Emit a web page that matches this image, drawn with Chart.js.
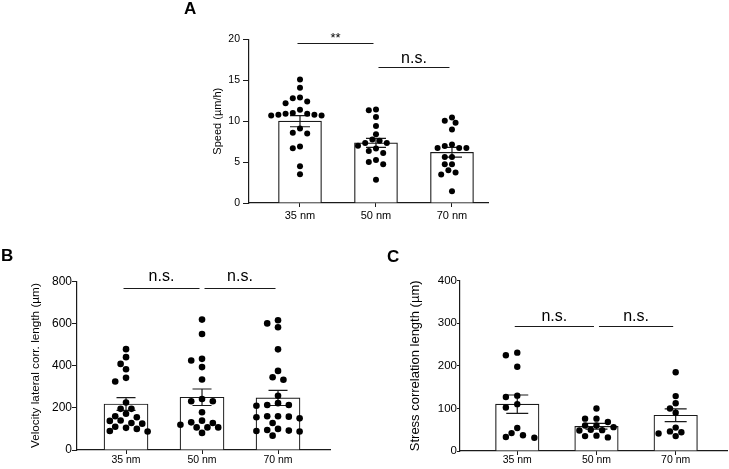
<!DOCTYPE html>
<html><head><meta charset="utf-8">
<script src="https://cdn.jsdelivr.net/npm/chart.js@4.4.1/dist/chart.umd.min.js"></script>
<style>
html,body{margin:0;padding:0;background:#fff;}
body{width:729px;height:469px;position:relative;overflow:hidden;}
canvas{position:absolute;left:0;top:0;}
</style></head><body>
<canvas id="panelA"></canvas><canvas id="panelB"></canvas><canvas id="panelC"></canvas>
<script>
const FONT = "'Liberation Sans', Arial, Helvetica, sans-serif";
const categories = ['35 nm', '50 nm', '70 nm'];

// ---- Panel A: Speed (µm/h)
const speed35 = [15.1, 14.1, 12.9, 12.8, 12.4, 12.2, 11.4, 10.9, 10.8, 10.7, 10.7, 10.8, 10.9, 11.0, 9.1, 8.5, 8.6, 6.7, 6.9, 4.5, 3.5];
const speed50 = [11.35, 11.43, 10.5, 9.4, 8.4, 7.35, 7.35, 7.75, 7.6, 6.35, 6.1, 6.65, 5.0, 4.75, 5.25, 2.85, 7.0];
const speed70 = [10.45, 9.8, 10.05, 9.0, 7.15, 6.73, 6.73, 6.73, 6.98, 5.63, 5.63, 4.74, 4.74, 4.0, 3.47, 3.72, 1.43];
const speedMean = [10.0, 7.35, 6.2];
const speedSem = [0.68, 0.56, 0.6];
const speedTicks = [0, 5, 10, 15, 20];
const speedSig = [{from: 0, to: 1, label: '**', level: 19.55}, {from: 1, to: 2, label: 'n.s.', level: 16.57}];

// ---- Panel B: Velocity lateral corr. length (µm)
const vel35 = [478, 440, 408, 383, 342, 325, 225, 195, 195, 172, 160, 155, 140, 138, 128, 125, 110, 100, 105, 90, 88];
const vel50 = [618, 550, 432, 424, 393, 334, 242, 231, 231, 179, 139, 131, 128, 120, 107, 107, 107, 81];
const vel70 = [615, 600, 582, 477, 375, 345, 333, 257, 213, 213, 222, 210, 160, 160, 150, 158, 155, 128, 90, 100, 88, 95, 68, 92];
const velMean = [218, 250, 247];
const velSem = [30.5, 39, 36];
const velTicks = [0, 200, 400, 600, 800];
const velSig = [{from: 0, to: 1, label: 'n.s.', level: 768}, {from: 1, to: 2, label: 'n.s.', level: 768}];

// ---- Panel C: Stress correlation length (µm)
const stress35 = [231, 225, 198, 127, 130, 102, 110, 54, 31, 42, 33, 37];
const stress50 = [100, 76, 76, 68, 60, 60, 56, 49, 50, 48, 36, 35, 32];
const stress70 = [185, 129, 112, 100, 90, 55, 35, 46, 41, 44];
const stressMean = [110, 58, 84];
const stressSem = [21.5, 6.7, 15];
const stressTicks = [0, 100, 200, 300, 400];
const stressSig = [{from: 0, to: 1, label: 'n.s.', level: 294.6}, {from: 1, to: 2, label: 'n.s.', level: 294.6}];

const INK = '#1a1a1a';

// beeswarm: horizontal pixel offsets so that dots do not overlap
function swarmPixelOffsets(values, yScale, half, D) {
  const order = values.map((v, i) => i).sort((a, b) => values[b] - values[a]);
  const placed = [];
  const off = new Array(values.length).fill(0);
  for (const i of order) {
    const py = yScale.getPixelForValue(values[i]);
    for (let k = 0; k < 80; k++) {
      const m = k === 0 ? 0 : (k % 2 ? -(k + 1) / 2 : k / 2);
      const px = m * half;
      const clash = placed.some(p => (p.px - px) ** 2 + (p.py - py) ** 2 < D * D);
      if (!clash) { off[i] = px; placed.push({px, py}); break; }
    }
  }
  return off;
}

function makePanel(id, P) {
  const canvas = document.getElementById(id);
  const plotW = P.area.right - P.area.left, plotH = P.area.bottom - P.area.top;
  const titleH = P.letterSize * 1.2 + P.letterPadBottom;
  const W = Math.ceil(P.yW + plotW + 6), H = Math.ceil(titleH + plotH + P.xH + 2);
  canvas.width = W; canvas.height = H;
  canvas.style.width = W + 'px'; canvas.style.height = H + 'px';

  const scatterData = [];
  P.groups.forEach((arr, gi) => arr.forEach(v => scatterData.push({x: gi, y: v})));

  const errorBars = {
    id: 'errorBars' + id,
    afterDatasetDraw(chart, args) {
      if (args.meta.type !== 'bar') return;
      const {ctx, scales: {x, y}} = chart;
      ctx.save();
      ctx.strokeStyle = INK; ctx.lineWidth = 1.2;
      P.means.forEach((m, i) => {
        const cx = x.getPixelForValue(i);
        const yt = y.getPixelForValue(m + P.sems[i]);
        const yb = y.getPixelForValue(m - P.sems[i]);
        ctx.beginPath();
        ctx.moveTo(cx, yt); ctx.lineTo(cx, yb);
        ctx.moveTo(cx - P.cap, yt); ctx.lineTo(cx + P.cap, yt);
        ctx.moveTo(cx - P.cap, yb); ctx.lineTo(cx + P.cap, yb);
        ctx.stroke();
      });
      ctx.restore();
    }
  };
  const brackets = {
    id: 'brackets' + id,
    afterDraw(chart) {
      const {ctx, scales: {x, y}} = chart;
      ctx.save();
      ctx.strokeStyle = INK; ctx.fillStyle = '#000'; ctx.lineWidth = 1;
      P.sig.forEach((s, k) => {
        const x1 = x.getPixelForValue(s.from) + (k > 0 ? 2.5 : -2.5);
        const x2 = x.getPixelForValue(s.to) - 2.5;
        const yy = Math.round(y.getPixelForValue(s.level)) + 0.5;
        ctx.beginPath(); ctx.moveTo(x1, yy); ctx.lineTo(x2, yy); ctx.stroke();
        const star = s.label === '**';
        ctx.font = (star ? P.starSize : P.sigSize) + 'px ' + FONT;
        ctx.textAlign = 'center'; ctx.textBaseline = 'alphabetic';
        ctx.fillText(s.label, (x1 + x2) / 2, yy - (star ? P.starGap : P.sigGap));
      });
      ctx.restore();
    }
  };

  const chart = new Chart(canvas, {
    type: 'bar',
    data: {
      datasets: [
        {type: 'scatter', data: scatterData, pointRadius: P.r, pointHoverRadius: P.r,
         backgroundColor: '#000', borderWidth: 0, order: 0},
        {type: 'bar', data: P.means.map((m, i) => ({x: i, y: m})), backgroundColor: '#fff',
         borderColor: INK, borderWidth: 1.2, barThickness: P.barW, order: 1}
      ]
    },
    options: {
      responsive: false, animation: false, devicePixelRatio: 1,
      layout: {padding: {left: 0, right: 6, top: 0, bottom: 2}},
      plugins: {
        legend: {display: false}, tooltip: {enabled: false},
        title: {display: true, text: P.letter, align: 'start', color: '#000',
                font: {family: FONT, size: P.letterSize, weight: 'bold', lineHeight: 1.2},
                padding: {top: 0, bottom: P.letterPadBottom}}
      },
      scales: {
        x: {
          type: 'linear', min: P.xMin, max: P.xMax, offset: false,
          grid: {display: true, drawOnChartArea: false, drawTicks: true, tickLength: P.xTickLen, color: INK, offset: false, lineWidth: 1},
          border: {display: true, color: INK, width: 1.2},
          afterBuildTicks: s => { s.ticks = categories.map((c, i) => ({value: i})); },
          ticks: {callback: v => categories[v] ?? '', color: '#000', padding: P.xTickPad,
                  font: {family: FONT, size: P.xTickSize}, maxRotation: 0, autoSkip: false},
          afterFit: s => { s.height = P.xH; }
        },
        y: {
          type: 'linear', min: P.ticks[0], max: P.ticks[P.ticks.length - 1],
          grid: {display: true, drawOnChartArea: false, drawTicks: true, tickLength: P.yTickLen, color: INK, lineWidth: 1},
          border: {display: true, color: INK, width: 1.2},
          afterBuildTicks: s => { s.ticks = P.ticks.map(v => ({value: v})); },
          ticks: {color: '#000', padding: P.yTickPad, font: {family: FONT, size: P.yTickSize}},
          title: {display: true, text: P.yTitle, color: '#000',
                  font: {family: FONT, size: P.yTitleSize, lineHeight: 1.2},
                  padding: {top: P.yTitlePad, bottom: 0}},
          afterFit: s => { s.width = P.yW; }
        }
      }
    },
    plugins: [errorBars, brackets]
  });

  const ca = chart.chartArea;
  canvas.style.left = (P.area.left - ca.left) + 'px';
  canvas.style.top = (P.area.top - ca.top) + 'px';

  const xs = chart.scales.x, ys = chart.scales.y;
  const pxPerUnit = xs.getPixelForValue(1) - xs.getPixelForValue(0);
  const pts = [];
  P.groups.forEach((arr, gi) => {
    const off = swarmPixelOffsets(arr, ys, P.half, P.D);
    arr.forEach((v, j) => pts.push({x: gi + off[j] / pxPerUnit, y: v}));
  });
  chart.data.datasets[0].data = pts;
  chart.update('none');
  return chart;
}

makePanel('panelA', {
  letter: 'A', letterSize: 17, letterPadBottom: 20,
  groups: [speed35, speed50, speed70], means: speedMean, sems: speedSem, ticks: speedTicks, sig: speedSig,
  area: {left: 249, top: 39.3, right: 488, bottom: 202.7}, xMin: -0.671, xMax: 2.474,
  yW: 65, yTitle: 'Speed (µm/h)', yTitleSize: 11, yTitlePad: 27.4,
  yTickSize: 10.5, yTickLen: 6, yTickPad: 3,
  xH: 30, xTickSize: 11, xTickLen: 4, xTickPad: 2,
  barW: 43, r: 3, cap: 10, half: 3.6, D: 6.2,
  sigSize: 16, sigGap: 4.5, starSize: 13, starGap: 2
});
makePanel('panelB', {
  letter: 'B', letterSize: 17, letterPadBottom: 14.8,
  groups: [vel35, vel50, vel70], means: velMean, sems: velSem, ticks: velTicks, sig: velSig,
  area: {left: 77, top: 281, right: 330, bottom: 449.3}, xMin: -0.645, xMax: 2.684,
  yW: 76, yTitle: 'Velocity lateral corr. length (µm)', yTitleSize: 11.75, yTitlePad: 28,
  yTickSize: 12, yTickLen: 5, yTickPad: 0,
  xH: 22, xTickSize: 10.5, xTickLen: 4, xTickPad: 0,
  barW: 44, r: 3.3, cap: 9.5, half: 5.4, D: 6.8,
  sigSize: 16, sigGap: 8, starSize: 13, starGap: 2
});
makePanel('panelC', {
  letter: 'C', letterSize: 17, letterPadBottom: 13.3,
  groups: [stress35, stress50, stress70], means: stressMean, sems: stressSem, ticks: stressTicks, sig: stressSig,
  area: {left: 460, top: 281, right: 727, bottom: 450.7}, xMin: -0.723, xMax: 2.648,
  yW: 73, yTitle: 'Stress correlation length (µm)', yTitleSize: 13, yTitlePad: 20.2,
  yTickSize: 11.5, yTickLen: 3, yTickPad: 0,
  xH: 20, xTickSize: 10.5, xTickLen: 4, xTickPad: -1,
  barW: 43.5, r: 3.2, cap: 11, half: 5.7, D: 6.7,
  sigSize: 16, sigGap: 5.5, starSize: 13, starGap: 2
});
</script>
</body></html>
